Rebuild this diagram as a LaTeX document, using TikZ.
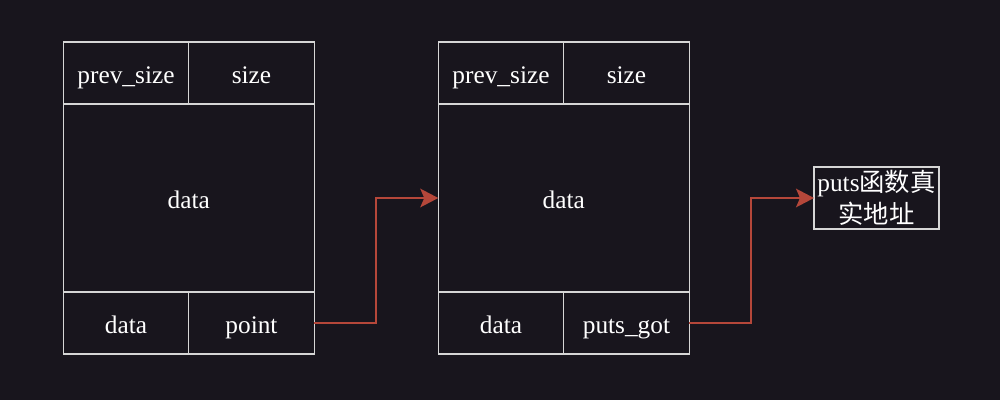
\documentclass[tikz,border=0pt]{standalone}
\usepackage{fontspec}
\setmainfont{Liberation Serif}
\newfontfamily\cjk{Noto Sans CJK SC}
\usetikzlibrary{positioning, arrows.meta}
\definecolor{base}{HTML}{18151D}
\definecolor{edge}{HTML}{D6D6D6}
\definecolor{ptr}{HTML}{B5473A}

\begin{document}
\begin{tikzpicture}[x=0.75pt, y=-0.75pt,
    cell/.style={draw=edge, line width=1pt, text=white, inner sep=0pt, outer sep=0pt,
      minimum width=94.1pt, minimum height=46.5pt, text height=15pt, text depth=0pt,
      font=\fontsize{19}{23}\selectfont},
    body/.style={cell, minimum width=188.25pt, minimum height=141pt},
    link/.style={draw=ptr, line width=1.2pt, -{Stealth[length=13.5pt, width=14pt, inset=3pt]}}]
      % Background
      \fill[base] (0,0) rectangle (1000,400);

      % Draw first chunk
      \node[cell] (lprev) at (126,73) {prev\_size};
      \node[cell, right=0pt of lprev] (lsize) {size};
      \node[body, below=0pt of lprev.south west, anchor=north west] (ldata) {data};
      \node[cell, below=0pt of ldata.south west, anchor=north west] (lfd) {data};
      \node[cell, right=0pt of lfd] (lpoint) {point};

      % Draw second chunk
      \node[cell] (rprev) at (501,73) {prev\_size};
      \node[cell, right=0pt of rprev] (rsize) {size};
      \node[body, below=0pt of rprev.south west, anchor=north west] (rdata) {data};
      \node[cell, below=0pt of rdata.south west, anchor=north west] (rfd) {data};
      \node[cell, right=0pt of rfd] (rgot) {puts\_got};

      % Draw target address
      \node[cell, minimum width=93.75pt, text height=, text depth=, align=center,
        font=\fontsize{19}{24}\selectfont]
        (real) at (876.5,198) {puts{\cjk 函数真}\\{\cjk 实地址}};

      % Draw pointers
      \draw[link] (lpoint.east) -- ++(62,0) |- (rdata.west);
      \draw[link] (rgot.east) -- ++(62,0) |- (real.west);
    \end{tikzpicture}
\end{document}
